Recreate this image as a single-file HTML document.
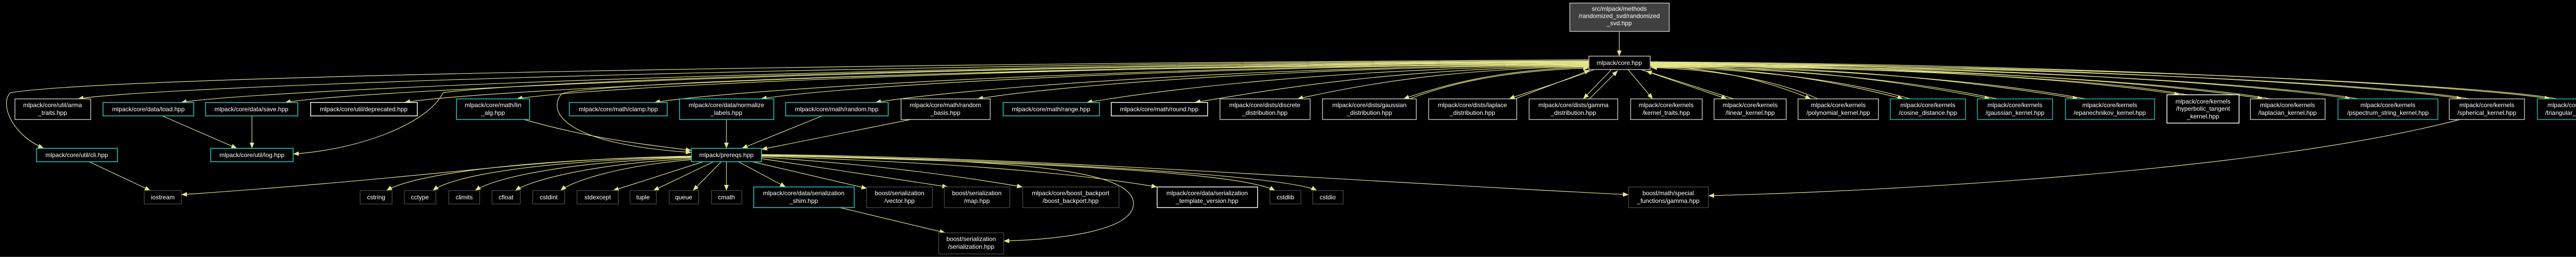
<!DOCTYPE html>
<html><head><meta charset="utf-8"><style>
html,body{margin:0;padding:0;background:#000;}
svg{display:block;}
text{font-family:"Liberation Sans",sans-serif;font-size:12px;fill:#fff;text-anchor:middle;}
.e{fill:none;stroke:#e5e58a;stroke-width:1.2;}
</style></head><body>
<svg width="5077" height="499" viewBox="0 0 5077 499" xmlns="http://www.w3.org/2000/svg">
<defs>
<marker id="a" markerUnits="userSpaceOnUse" markerWidth="12" markerHeight="10" refX="11" refY="4.5" orient="auto">
<path d="M0,0 L11,4.5 L0,9 Z" fill="#e5e58a"/>
</marker>
</defs>
<rect width="5077" height="499" fill="#000"/>
<line x1="0" y1="498.5" x2="5077" y2="498.5" stroke="#404040"/>

<g class="edges">
<path class="e" marker-end="url(#a)" d="M3143,61 L3143,109"/>
<!-- core -> left top row -->
<path class="e" marker-end="url(#a)" d="M3084,118 C1617,123 301,167 151,192"/>
<path class="e" marker-end="url(#a)" d="M3084,119 C1717,124 501,174 351,199"/>
<path class="e" marker-end="url(#a)" d="M3084,120 C1818,125 703,174 553,199"/>
<path class="e" marker-end="url(#a)" d="M3084,121 C1934,126 935,174 785,199"/>
<path class="e" marker-end="url(#a)" d="M3084,122 C2043,127 1153,167 1003,192"/>
<path class="e" marker-end="url(#a)" d="M3084,123 C2177,128 1420,174 1270,199"/>
<path class="e" marker-end="url(#a)" d="M3084,124 C2280,129 1627,167 1477,192"/>
<path class="e" marker-end="url(#a)" d="M3084,125 C2391,130 1849,174 1699,199"/>
<path class="e" marker-end="url(#a)" d="M3084,126 C2490,131 2047,167 1897,192"/>
<path class="e" marker-end="url(#a)" d="M3084,127 C2596,132 2259,174 2109,199"/>
<path class="e" marker-end="url(#a)" d="M3084,128 C2701,133 2469,174 2319,199"/>
<path class="e" marker-end="url(#a)" d="M3084,129 C2801,134 2631,167 2518,192"/>
<path class="e" marker-end="url(#a)" d="M3084,130 C2904,135 2796,167 2724,192"/>
<path class="e" marker-end="url(#a)" d="M2736,192 C2808,164 2910,138 3084,132"/>
<path class="e" marker-end="url(#a)" d="M3095,135 C3030,160 2960,180 2929,192"/>
<path class="e" marker-end="url(#a)" d="M2941,192 C2975,178 3040,155 3086,136"/>
<path class="e" marker-end="url(#a)" d="M3128,135 L3073,192"/>
<path class="e" marker-end="url(#a)" d="M3085,192 L3140,137"/>
<path class="e" marker-end="url(#a)" d="M3160,135 L3208,192"/>
<!-- core -> kernels (and back) -->
<path class="e" marker-end="url(#a)" d="M3185,135 L3352,192"/>
<path class="e" marker-end="url(#a)" d="M3365,192 L3195,138"/>
<path class="e" marker-end="url(#a)" d="M3203,128 C3359,133 3453,167 3515,192"/>
<path class="e" marker-end="url(#a)" d="M3529,192 C3467,164 3359,136 3205,131"/>
<path class="e" marker-end="url(#a)" d="M3203,127 C3448,132 3596,167 3694,192"/>
<path class="e" marker-end="url(#a)" d="M3708,192 C3610,164 3448,135 3205,130"/>
<path class="e" marker-end="url(#a)" d="M3203,126 C3533,131 3731,167 3863,192"/>
<path class="e" marker-end="url(#a)" d="M3877,192 C3745,164 3533,134 3205,129"/>
<path class="e" marker-end="url(#a)" d="M3203,125 C3618,130 3884,167 4034,192"/>
<path class="e" marker-end="url(#a)" d="M4048,192 C3898,164 3618,133 3205,128"/>
<path class="e" marker-end="url(#a)" d="M3203,124 C3717,129 4081,159 4231,184"/>
<path class="e" marker-end="url(#a)" d="M4245,184 C4095,156 3717,132 3205,127"/>
<path class="e" marker-end="url(#a)" d="M3203,123 C3798,128 4243,167 4393,192"/>
<path class="e" marker-end="url(#a)" d="M4407,192 C4257,164 3798,131 3205,126"/>
<path class="e" marker-end="url(#a)" d="M3203,122 C3883,127 4413,167 4563,192"/>
<path class="e" marker-end="url(#a)" d="M4577,192 C4427,164 3883,130 3205,125"/>
<path class="e" marker-end="url(#a)" d="M3203,121 C3991,126 4629,167 4779,192"/>
<path class="e" marker-end="url(#a)" d="M4793,192 C4643,164 3991,129 3205,124"/>
<path class="e" marker-end="url(#a)" d="M3203,120 C4076,125 4800,167 4950,192"/>
<path class="e" marker-end="url(#a)" d="M4964,192 C4814,164 4076,128 3205,123"/>
<!-- long curves -->
<path class="e" marker-end="url(#a)" d="M3084,116 C1500,125 200,150 20,180 C0,200 20,260 85,288"/>
<path class="e" marker-end="url(#a)" d="M3084,120 C1800,128 1000,160 860,180 C830,240 700,290 569,299"/>
<path class="e" marker-end="url(#a)" d="M3084,124 C2000,130 1150,160 1090,182 C1060,220 1100,280 1342,296"/>
<!-- mid layer -->
<path class="e" marker-end="url(#a)" d="M315,225 L460,288"/>
<path class="e" marker-end="url(#a)" d="M489,225 L489,288"/>
<path class="e" marker-end="url(#a)" d="M1017,232 C1150,270 1250,280 1342,292"/>
<path class="e" marker-end="url(#a)" d="M1410,232 L1410,288"/>
<path class="e" marker-end="url(#a)" d="M1596,225 L1440,288"/>
<path class="e" marker-end="url(#a)" d="M1768,232 L1478,290"/>
<!-- prereqs out -->
<path class="e" marker-end="url(#a)" d="M173,314 L292,370"/>
<path class="e" marker-end="url(#a)" d="M1342,303 C1000,310 900,340 352,378"/>
<path class="e" marker-end="url(#a)" d="M1342,304 C1000,310 800,340 750,370"/>
<path class="e" marker-end="url(#a)" d="M1342,305 C1050,312 880,340 840,370"/>
<path class="e" marker-end="url(#a)" d="M1342,306 C1100,314 960,345 922,370"/>
<path class="e" marker-end="url(#a)" d="M1342,308 C1150,318 1030,350 1000,370"/>
<path class="e" marker-end="url(#a)" d="M1342,310 C1200,322 1110,352 1088,370"/>
<path class="e" marker-end="url(#a)" d="M1365,314 L1190,370"/>
<path class="e" marker-end="url(#a)" d="M1385,314 L1268,370"/>
<path class="e" marker-end="url(#a)" d="M1400,314 L1345,370"/>
<path class="e" marker-end="url(#a)" d="M1410,314 L1410,370"/>
<path class="e" marker-end="url(#a)" d="M1433,314 L1525,363"/>
<path class="e" marker-end="url(#a)" d="M1460,314 L1683,366"/>
<path class="e" marker-end="url(#a)" d="M1478,308 L1840,363"/>
<path class="e" marker-end="url(#a)" d="M1478,305 C1700,320 1850,340 1985,363"/>
<path class="e" marker-end="url(#a)" d="M1478,303 C1800,315 2050,330 2246,363"/>
<path class="e" marker-end="url(#a)" d="M1478,302 C1900,312 2400,330 2475,370"/>
<path class="e" marker-end="url(#a)" d="M1478,301 C1950,308 2500,340 2556,370"/>
<path class="e" marker-end="url(#a)" d="M1478,300 C2000,305 2500,345 3161,378"/>
<path class="e" marker-end="url(#a)" d="M1478,302 C1900,310 2200,320 2200,395 C2200,450 2050,465 1948,468"/>
<path class="e" marker-end="url(#a)" d="M1630,403 L1835,452"/>
<path class="e" marker-end="url(#a)" d="M4775,232 C4400,330 3700,370 3316,380"/>
</g>

<g stroke-width="1.5" fill="#000">
<rect x="3047" y="6" width="193" height="55" fill="#404040" stroke="#bfbfbf"/>
<rect x="3084" y="109" width="119" height="26" stroke="#bfbfbf"/>
<rect x="29" y="192" width="147" height="40" stroke="#bfbfbf"/>
<rect x="200" y="199" width="176" height="26" stroke="#1fd0d0"/>
<rect x="399" y="199" width="179" height="26" stroke="#1fd0d0"/>
<rect x="603" y="199" width="207" height="26" stroke="#fff"/>
<rect x="71" y="288" width="157" height="26" stroke="#1fd0d0"/>
<rect x="409" y="288" width="160" height="26" stroke="#1fd0d0"/>
<rect x="1342" y="288" width="136" height="26" stroke="#1fd0d0"/>
<rect x="886" y="192" width="142" height="40" stroke="#1fd0d0"/>
<rect x="1105" y="199" width="190" height="26" stroke="#1fd0d0"/>
<rect x="1319" y="192" width="183" height="40" stroke="#1fd0d0"/>
<rect x="1525" y="199" width="199" height="26" stroke="#1fd0d0"/>
<rect x="1749" y="192" width="173" height="40" stroke="#bfbfbf"/>
<rect x="1947" y="199" width="187" height="26" stroke="#1fd0d0"/>
<rect x="2157" y="199" width="187" height="26" stroke="#fff"/>
<rect x="2368" y="192" width="175" height="40" stroke="#bfbfbf"/>
<rect x="2567" y="192" width="182" height="40" stroke="#bfbfbf"/>
<rect x="2773" y="192" width="171" height="40" stroke="#bfbfbf"/>
<rect x="2968" y="192" width="172" height="40" stroke="#bfbfbf"/>
<rect x="3165" y="192" width="139" height="40" stroke="#bfbfbf"/>
<rect x="3327" y="192" width="140" height="40" stroke="#bfbfbf"/>
<rect x="3490" y="192" width="156" height="40" stroke="#bfbfbf"/>
<rect x="3669" y="192" width="146" height="40" stroke="#1fb8b8"/>
<rect x="3838" y="192" width="146" height="40" stroke="#1fb8b8"/>
<rect x="4009" y="192" width="173" height="40" stroke="#1fb8b8"/>
<rect x="4206" y="184" width="140" height="55" stroke="#fff"/>
<rect x="4368" y="192" width="145" height="40" stroke="#bfbfbf"/>
<rect x="4538" y="192" width="194" height="40" stroke="#1fb8b8"/>
<rect x="4754" y="192" width="146" height="40" stroke="#bfbfbf"/>
<rect x="4925" y="192" width="147" height="40" stroke="#1fb8b8"/>
<rect x="280" y="370" width="72" height="26" stroke="#404040"/>
<rect x="699" y="370" width="62" height="26" stroke="#404040"/>
<rect x="785" y="370" width="61" height="26" stroke="#404040"/>
<rect x="871" y="370" width="60" height="26" stroke="#404040"/>
<rect x="955" y="370" width="55" height="26" stroke="#404040"/>
<rect x="1034" y="370" width="62" height="26" stroke="#404040"/>
<rect x="1120" y="370" width="80" height="26" stroke="#404040"/>
<rect x="1223" y="370" width="51" height="26" stroke="#404040"/>
<rect x="1299" y="370" width="57" height="26" stroke="#404040"/>
<rect x="1381" y="370" width="59" height="26" stroke="#404040"/>
<rect x="1463" y="363" width="195" height="40" stroke="#1fd0d0"/>
<rect x="1682" y="363" width="128" height="40" stroke="#404040"/>
<rect x="1833" y="363" width="127" height="40" stroke="#404040"/>
<rect x="1985" y="363" width="187" height="40" stroke="#404040"/>
<rect x="2246" y="363" width="195" height="40" stroke="#fff"/>
<rect x="2465" y="370" width="60" height="26" stroke="#404040"/>
<rect x="2548" y="370" width="59" height="26" stroke="#404040"/>
<rect x="3161" y="363" width="155" height="40" stroke="#404040"/>
<rect x="1822" y="452" width="126" height="41" stroke="#404040"/>
</g>

<g>
<text x="3143" y="21">src/mlpack/methods</text>
<text x="3143" y="35">/randomized_svd/randomized</text>
<text x="3143" y="49">_svd.hpp</text>
<text x="3143" y="126">mlpack/core.hpp</text>
<text x="102" y="208">mlpack/core/util/arma</text><text x="102" y="223">_traits.hpp</text>
<text x="288" y="216">mlpack/core/data/load.hpp</text>
<text x="488" y="216">mlpack/core/data/save.hpp</text>
<text x="706" y="216">mlpack/core/util/deprecated.hpp</text>
<text x="149" y="305">mlpack/core/util/cli.hpp</text>
<text x="489" y="305">mlpack/core/util/log.hpp</text>
<text x="1410" y="305">mlpack/prereqs.hpp</text>
<text x="957" y="208">mlpack/core/math/lin</text><text x="957" y="223">_alg.hpp</text>
<text x="1200" y="216">mlpack/core/math/clamp.hpp</text>
<text x="1410" y="208">mlpack/core/data/normalize</text><text x="1410" y="223">_labels.hpp</text>
<text x="1624" y="216">mlpack/core/math/random.hpp</text>
<text x="1835" y="208">mlpack/core/math/random</text><text x="1835" y="223">_basis.hpp</text>
<text x="2040" y="216">mlpack/core/math/range.hpp</text>
<text x="2250" y="216">mlpack/core/math/round.hpp</text>
<text x="2455" y="208">mlpack/core/dists/discrete</text><text x="2455" y="223">_distribution.hpp</text>
<text x="2658" y="208">mlpack/core/dists/gaussian</text><text x="2658" y="223">_distribution.hpp</text>
<text x="2858" y="208">mlpack/core/dists/laplace</text><text x="2858" y="223">_distribution.hpp</text>
<text x="3054" y="208">mlpack/core/dists/gamma</text><text x="3054" y="223">_distribution.hpp</text>
<text x="3234" y="208">mlpack/core/kernels</text><text x="3234" y="223">/kernel_traits.hpp</text>
<text x="3397" y="208">mlpack/core/kernels</text><text x="3397" y="223">/linear_kernel.hpp</text>
<text x="3568" y="208">mlpack/core/kernels</text><text x="3568" y="223">/polynomial_kernel.hpp</text>
<text x="3742" y="208">mlpack/core/kernels</text><text x="3742" y="223">/cosine_distance.hpp</text>
<text x="3911" y="208">mlpack/core/kernels</text><text x="3911" y="223">/gaussian_kernel.hpp</text>
<text x="4095" y="208">mlpack/core/kernels</text><text x="4095" y="223">/epanechnikov_kernel.hpp</text>
<text x="4276" y="201">mlpack/core/kernels</text><text x="4276" y="215">/hyperbolic_tangent</text><text x="4276" y="230">_kernel.hpp</text>
<text x="4440" y="208">mlpack/core/kernels</text><text x="4440" y="223">/laplacian_kernel.hpp</text>
<text x="4635" y="208">mlpack/core/kernels</text><text x="4635" y="223">/pspectrum_string_kernel.hpp</text>
<text x="4827" y="208">mlpack/core/kernels</text><text x="4827" y="223">/spherical_kernel.hpp</text>
<text x="4998" y="208">mlpack/core/kernels</text><text x="4998" y="223">/triangular_kernel.hpp</text>
<text x="316" y="387">iostream</text>
<text x="730" y="387">cstring</text>
<text x="815" y="387">cctype</text>
<text x="901" y="387">climits</text>
<text x="982" y="387">cfloat</text>
<text x="1065" y="387">cstdint</text>
<text x="1160" y="387">stdexcept</text>
<text x="1248" y="387">tuple</text>
<text x="1327" y="387">queue</text>
<text x="1410" y="387">cmath</text>
<text x="1560" y="379">mlpack/core/data/serialization</text><text x="1560" y="394">_shim.hpp</text>
<text x="1746" y="379">boost/serialization</text><text x="1746" y="394">/vector.hpp</text>
<text x="1896" y="379">boost/serialization</text><text x="1896" y="394">/map.hpp</text>
<text x="2078" y="379">mlpack/core/boost_backport</text><text x="2078" y="394">/boost_backport.hpp</text>
<text x="2343" y="379">mlpack/core/data/serialization</text><text x="2343" y="394">_template_version.hpp</text>
<text x="2495" y="387">cstdlib</text>
<text x="2577" y="387">cstdio</text>
<text x="3238" y="379">boost/math/special</text><text x="3238" y="394">_functions/gamma.hpp</text>
<text x="1885" y="468">boost/serialization</text><text x="1885" y="483">/serialization.hpp</text>
</g>
</svg>
</body></html>
